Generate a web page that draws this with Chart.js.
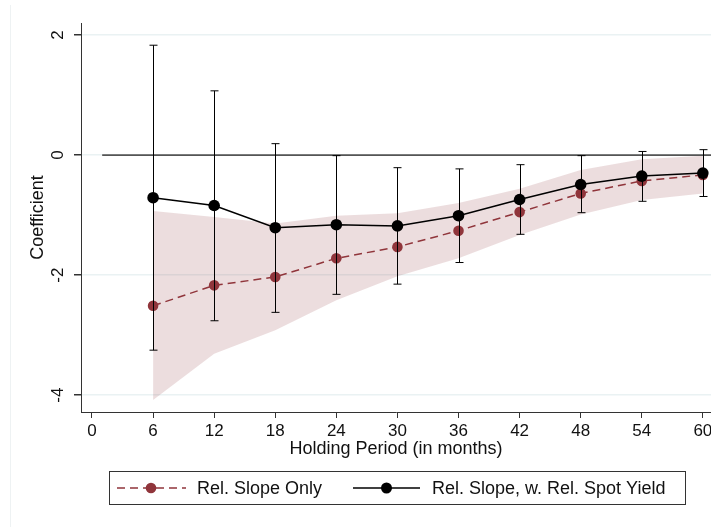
<!DOCTYPE html>
<html>
<head>
<meta charset="utf-8">
<title>Coefficient by holding period</title>
<script src="https://cdn.jsdelivr.net/npm/chart.js@4.4.1/dist/chart.umd.min.js"></script>
<style>
    html, body { margin: 0; padding: 0; background: #fff; }
    #wrap { width: 711px; height: 527px; position: relative; }
</style>
</head>
<body>
<div id="wrap"><canvas id="coefChart"></canvas></div>
<script>
// Data
const holdingPeriods = [6, 12, 18, 24, 30, 36, 42, 48, 54, 60];

const slopeOnly   = [-2.51, -2.17, -2.03, -1.72, -1.53, -1.26, -0.95, -0.64, -0.43, -0.33];
const slopeOnlyHi = [-0.93, -1.03, -1.14, -1.01, -0.97, -0.80, -0.56, -0.25, -0.07, -0.01];
const slopeOnlyLo = [-4.08, -3.31, -2.92, -2.42, -2.02, -1.72, -1.33, -0.99, -0.75, -0.64];

const slopeSpot   = [-0.71, -0.84, -1.21, -1.16, -1.18, -1.01, -0.74, -0.49, -0.35, -0.30];
const slopeSpotHi = [1.83, 1.07, 0.19, -0.01, -0.21, -0.23, -0.16, -0.01, 0.06, 0.09];
const slopeSpotLo = [-3.25, -2.76, -2.62, -2.32, -2.15, -1.79, -1.32, -0.96, -0.77, -0.69];

const xTicks = [0, 6, 12, 18, 24, 30, 36, 42, 48, 54, 60];
const yTicks = [-4, -2, 0, 2];

const seriesLabels = ['Rel. Slope Only', 'Rel. Slope, w. Rel. Spot Yield'];

const RED = '#90353B';
const BAND = 'rgba(144, 53, 59, 0.17)';
const X_MIN = -1.08, X_MAX = 60.8;
const ZERO_FROM = 1;

function pts(ys) {
    return holdingPeriods.map((x, i) => ({ x: x, y: ys[i] }));
}

// error bars, rotated y labels, legend box
const stataExtras = {
    id: 'stataExtras',
    beforeDraw(chart) {
        const ctx = chart.ctx;
        ctx.save();
        ctx.strokeStyle = '#eef2f3';
        ctx.lineWidth = 1;
        ctx.beginPath();
        ctx.moveTo(10.5, 5);
        ctx.lineTo(10.5, chart.height);
        ctx.stroke();
        ctx.restore();
    },
    afterDatasetsDraw(chart) {
        const ctx = chart.ctx;
        const xs = chart.scales.x, ys = chart.scales.y;
        ctx.save();
        ctx.strokeStyle = '#000';
        ctx.lineWidth = 1;
        holdingPeriods.forEach((p, i) => {
            const x = Math.round(xs.getPixelForValue(p)) + 0.5;
            const top = ys.getPixelForValue(slopeSpotHi[i]);
            const bot = ys.getPixelForValue(slopeSpotLo[i]);
            ctx.beginPath();
            ctx.moveTo(x, top);
            ctx.lineTo(x, bot);
            ctx.moveTo(x - 4, top);
            ctx.lineTo(x + 4, top);
            ctx.moveTo(x - 4, bot);
            ctx.lineTo(x + 4, bot);
            ctx.stroke();
        });
        ctx.restore();
    },
    afterDraw(chart) {
        const ctx = chart.ctx;
        const ys = chart.scales.y;
        ctx.save();

        // y tick labels, rotated like Stata
        ctx.fillStyle = '#111';
        ctx.font = '17px "Liberation Sans", Arial, sans-serif';
        ctx.textAlign = 'center';
        ctx.textBaseline = 'middle';
        yTicks.forEach(v => {
            ctx.save();
            ctx.translate(58, ys.getPixelForValue(v));
            ctx.rotate(-Math.PI / 2);
            ctx.fillText(String(v), 0, 0);
            ctx.restore();
        });

        // legend
        const bx = 109.5, by = 471.5, bw = 576, bh = 33;
        const cy = by + bh / 2;
        ctx.strokeStyle = '#333';
        ctx.lineWidth = 1;
        ctx.strokeRect(bx, by, bw, bh);

        ctx.strokeStyle = RED;
        ctx.lineWidth = 1.5;
        ctx.setLineDash([8, 5]);
        ctx.beginPath();
        ctx.moveTo(117, cy);
        ctx.lineTo(186, cy);
        ctx.stroke();
        ctx.setLineDash([]);
        ctx.fillStyle = RED;
        ctx.beginPath();
        ctx.arc(151, cy, 5.3, 0, Math.PI * 2);
        ctx.fill();

        ctx.strokeStyle = '#000';
        ctx.beginPath();
        ctx.moveTo(353, cy);
        ctx.lineTo(420, cy);
        ctx.stroke();
        ctx.fillStyle = '#000';
        ctx.beginPath();
        ctx.arc(386.5, cy, 5.5, 0, Math.PI * 2);
        ctx.fill();

        ctx.fillStyle = '#111';
        ctx.font = '18px "Liberation Sans", Arial, sans-serif';
        ctx.textAlign = 'left';
        ctx.fillText(seriesLabels[0], 197, cy + 1);
        ctx.fillText(seriesLabels[1], 432, cy + 1);
        ctx.restore();
    }
};

const chart = new Chart(document.getElementById('coefChart'), {
    type: 'line',
    data: {
        datasets: [
            {
                label: seriesLabels[1],
                data: pts(slopeSpot),
                borderColor: '#000',
                backgroundColor: '#000',
                borderWidth: 1.5,
                pointRadius: 5.8,
                pointBorderWidth: 0,
                tension: 0,
                fill: false
            },
            {
                label: seriesLabels[0],
                data: pts(slopeOnly),
                borderColor: RED,
                backgroundColor: RED,
                borderWidth: 1.5,
                borderDash: [8, 5],
                pointRadius: 5.3,
                pointBorderWidth: 0,
                tension: 0,
                fill: false
            },
            {
                label: 'zero',
                data: [{ x: ZERO_FROM, y: 0 }, { x: X_MAX, y: 0 }],
                borderColor: '#555',
                borderWidth: 1.7,
                pointRadius: 0,
                fill: false
            },
            {
                label: 'bandHi',
                data: pts(slopeOnlyHi),
                borderWidth: 0,
                borderColor: 'rgba(0,0,0,0)',
                backgroundColor: BAND,
                pointRadius: 0,
                tension: 0,
                fill: '+1'
            },
            {
                label: 'bandLo',
                data: pts(slopeOnlyLo),
                borderWidth: 0,
                borderColor: 'rgba(0,0,0,0)',
                pointRadius: 0,
                tension: 0,
                fill: false
            }
        ]
    },
    options: {
        responsive: true,
        maintainAspectRatio: false,
        animation: false,
        events: [],
        layout: {
            autoPadding: false,
            padding: { top: 23, right: 0, bottom: 67, left: 0 }
        },
        plugins: {
            legend: { display: false },
            tooltip: { enabled: false }
        },
        scales: {
            x: {
                type: 'linear',
                min: X_MIN,
                max: X_MAX,
                afterBuildTicks: scale => {
                    scale.ticks = xTicks.map(v => ({ value: v }));
                },
                afterFit: scale => {
                    scale.height = 48;
                    scale.paddingLeft = 0;
                    scale.paddingRight = 0;
                },
                grid: {
                    drawOnChartArea: false,
                    drawTicks: true,
                    tickLength: 6,
                    tickColor: '#333'
                },
                border: { display: true, color: '#333', width: 1 },
                ticks: {
                    autoSkip: false,
                    maxRotation: 0,
                    padding: 3,
                    color: '#111',
                    font: { family: '"Liberation Sans", Arial, sans-serif', size: 17 }
                },
                title: {
                    display: true,
                    text: 'Holding Period (in months)',
                    color: '#111',
                    padding: { top: 0, bottom: 0 },
                    font: { family: '"Liberation Sans", Arial, sans-serif', size: 18 }
                }
            },
            y: {
                type: 'linear',
                min: -4.28,
                max: 2.2,
                afterBuildTicks: scale => {
                    scale.ticks = yTicks.map(v => ({ value: v }));
                },
                afterFit: scale => {
                    scale.width = 81;
                },
                grid: {
                    color: '#eaf2f3',
                    lineWidth: 1.5,
                    drawTicks: true,
                    tickLength: 7,
                    tickColor: '#333'
                },
                border: { display: true, color: '#333', width: 1 },
                ticks: { display: false },
                title: {
                    display: true,
                    text: 'Coefficient',
                    color: '#111',
                    padding: { top: 27, bottom: 0 },
                    font: { family: '"Liberation Sans", Arial, sans-serif', size: 18 }
                }
            }
        }
    },
    plugins: [stataExtras]
});
</script>
</body>
</html>
